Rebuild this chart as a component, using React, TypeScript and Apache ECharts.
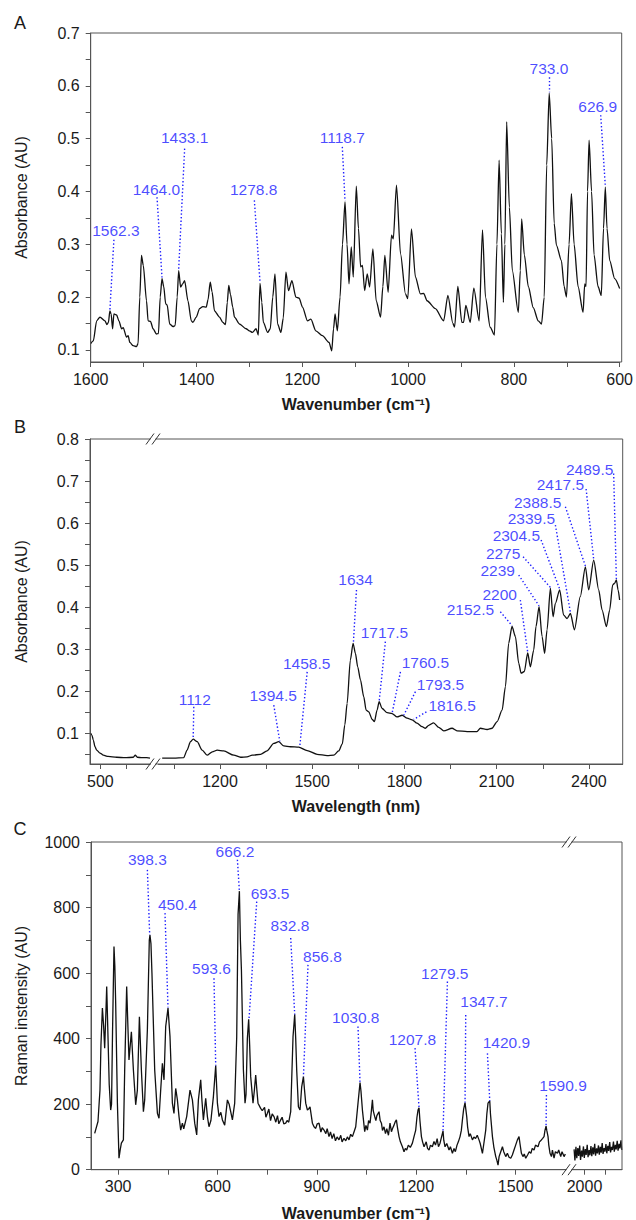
import React, { useEffect, useRef } from 'react';
import * as echarts from 'echarts';

// ---------- Panel A: FTIR (wavenumber, absorbance) ----------
const aSpectrum: [number, number][] = [
  [1600,0.112],[1595.1,0.117],[1588.7,0.155],[1582.5,0.162],[1573,0.155],[1569.3,0.148],[1566.5,0.152],[1563.7,0.174],[1561.4,0.168],[1558.6,0.140],[1556.1,0.168],[1551,0.166],[1546.7,0.155],[1541.6,0.140],[1538.6,0.142],[1532.2,0.124],[1529.2,0.127],[1526,0.114],[1519.8,0.108],[1513.4,0.106],[1510.4,0.112],[1507.2,0.2],[1504,0.279],[1500.6,0.26],[1494.5,0.193],[1491.5,0.155],[1487,0.154],[1482.1,0.140],[1475.7,0.130],[1471.9,0.131],[1468.6,0.2],[1465.2,0.235],[1462,0.22],[1458.2,0.187],[1455.4,0.185],[1450.7,0.149],[1444.4,0.144],[1440.3,0.146],[1436.5,0.2],[1433.7,0.25],[1430,0.219],[1426.2,0.225],[1422.4,0.231],[1416.2,0.193],[1409.8,0.155],[1406.8,0.152],[1400.4,0.162],[1394.2,0.178],[1388,0.182],[1381.5,0.181],[1378.2,0.195],[1374,0.228],[1370.6,0.21],[1366,0.174],[1356.5,0.162],[1350.3,0.152],[1345.2,0.148],[1341.8,0.19],[1339,0.222],[1335.8,0.205],[1331.5,0.181],[1328.2,0.162],[1318.8,0.149],[1306.2,0.140],[1300,0.136],[1294.3,0.133],[1287.4,0.140],[1283.1,0.128],[1279.9,0.226],[1276.5,0.19],[1273.6,0.152],[1265.5,0.133],[1260.5,0.14],[1255.8,0.2],[1251.6,0.244],[1246.7,0.149],[1240.3,0.133],[1236,0.16],[1230.9,0.247],[1226,0.212],[1219.6,0.231],[1212.1,0.2],[1205.9,0.198],[1199.6,0.181],[1190.2,0.155],[1183.8,0.158],[1174.4,0.136],[1161.9,0.127],[1149.3,0.114],[1144.3,0.098],[1140.9,0.14],[1138,0.168],[1133.7,0.136],[1128.6,0.2],[1124,0.3],[1119.2,0.38],[1115.4,0.3],[1111.7,0.225],[1107.4,0.295],[1103.6,0.238],[1097.9,0.41],[1093.8,0.33],[1089.7,0.257],[1086.3,0.26],[1082.1,0.212],[1077.2,0.244],[1072.7,0.219],[1066.5,0.291],[1060.3,0.193],[1052,0.162],[1047.6,0.22],[1043.9,0.279],[1037.7,0.209],[1031.3,0.317],[1027.9,0.31],[1021.9,0.412],[1014.3,0.282],[1004.9,0.206],[1000.6,0.197],[993.6,0.329],[986.1,0.238],[976.7,0.206],[970.5,0.207],[964.2,0.193],[948.4,0.178],[932.8,0.155],[924.7,0.203],[915.3,0.150],[912.1,0.143],[905.9,0.220],[898.3,0.152],[895.1,0.152],[890.8,0.184],[882.5,0.152],[875.7,0.217],[865.6,0.155],[859.3,0.327],[853.7,0.2],[844.8,0.143],[836.7,0.128],[832,0.3],[827.9,0.459],[823.6,0.32],[819.8,0.19],[817,0.3],[813.6,0.532],[808.5,0.37],[802.9,0.25],[791.6,0.171],[787.8,0.25],[785.3,0.348],[780.2,0.28],[772.7,0.22],[763.3,0.18],[753.9,0.155],[747.7,0.149],[742.6,0.2],[737.9,0.45],[733.2,0.586],[728.5,0.5],[723.8,0.34],[719.5,0.298],[710.1,0.269],[705,0.22],[700.6,0.2],[695.6,0.3],[691.2,0.396],[686.1,0.3],[678.6,0.22],[669.2,0.171],[666,0.225],[663.5,0.22],[660.7,0.4],[657.8,0.497],[653.1,0.4],[648.4,0.28],[640.9,0.22],[634.7,0.203],[630.5,0.33],[627.1,0.408],[623.9,0.33],[618.8,0.269],[609.4,0.235],[600,0.216]
];
const aXLabels = [1600, 1400, 1200, 1000, 800, 600];
const aXTicks = [1600, 1500, 1400, 1300, 1200, 1100, 1000, 900, 800, 700, 600];
const aYLabels = [0.1, 0.2, 0.3, 0.4, 0.5, 0.6, 0.7];
const aYTicks = [0.1, 0.15, 0.2, 0.25, 0.3, 0.35, 0.4, 0.45, 0.5, 0.55, 0.6, 0.65, 0.7];

// ---------- Panel B: NIR (wavelength, absorbance), broken axis ----------
const bSpectrumLeft: [number, number][] = [
  [462.7,0.100],[467.7,0.095],[472.8,0.084],[479.4,0.068],[485.9,0.060],[498.7,0.053],[511.5,0.048],[529.7,0.045],[563.4,0.043],[595.5,0.042],[627.6,0.043],[635.4,0.048],[643.1,0.043],[661.3,0.042],[679.5,0.042],[692.3,0.041]
];
const bSpectrumRight: [number, number][] = [
  [1012,0.041],[1050,0.041],[1082,0.042],[1093,0.060],[1104,0.080],[1112.8,0.086],[1125.9,0.080],[1142,0.060],[1158,0.048],[1175,0.056],[1191,0.060],[1212,0.058],[1245,0.048],[1267,0.043],[1288,0.044],[1305,0.048],[1332,0.050],[1353,0.058],[1375,0.076],[1391,0.080],[1407.5,0.070],[1429,0.068],[1456,0.067],[1483.6,0.059],[1516,0.050],[1548.6,0.047],[1570,0.048],[1586,0.058],[1598,0.075],[1606,0.12],[1613.6,0.171],[1624,0.274],[1633,0.314],[1640.6,0.290],[1648,0.258],[1657,0.227],[1667.6,0.187],[1675.4,0.155],[1684,0.151],[1695,0.133],[1702.4,0.128],[1711,0.155],[1717.7,0.175],[1727.5,0.159],[1743.7,0.149],[1760,0.147],[1776,0.139],[1792.5,0.143],[1808.8,0.136],[1825,0.132],[1841,0.124],[1857.6,0.116],[1868,0.112],[1879,0.119],[1895,0.125],[1911.5,0.114],[1927.8,0.106],[1955,0.112],[1971,0.106],[2004,0.104],[2036,0.104],[2047,0.112],[2069,0.109],[2085,0.112],[2101.5,0.128],[2117.7,0.155],[2128.5,0.211],[2139,0.314],[2150,0.354],[2161,0.330],[2171.7,0.267],[2179.5,0.243],[2190,0.247],[2201,0.291],[2209.7,0.258],[2220.5,0.298],[2228,0.354],[2238,0.401],[2247.8,0.330],[2256,0.290],[2264,0.346],[2274.8,0.445],[2283.5,0.377],[2291,0.409],[2305,0.441],[2318,0.381],[2329,0.373],[2340,0.385],[2353,0.346],[2372,0.425],[2388.6,0.496],[2399.5,0.441],[2415.6,0.512],[2432,0.441],[2443,0.393],[2457,0.354],[2467.6,0.393],[2477.4,0.453],[2484,0.457],[2489.4,0.465],[2495,0.441],[2500,0.417]
];
const bXLeftLabels = [500];
const bXLeftTicks = [500, 600];
const bXRightLabels = [1200, 1500, 1800, 2100, 2400];
const bXRightTicks = [1050, 1200, 1350, 1500, 1650, 1800, 1950, 2100, 2250, 2400];
const bYLabels = [0.1, 0.2, 0.3, 0.4, 0.5, 0.6, 0.7, 0.8];
const bYTicks = [0.05, 0.1, 0.15, 0.2, 0.25, 0.3, 0.35, 0.4, 0.45, 0.5, 0.55, 0.6, 0.65, 0.7, 0.75, 0.8];

// ---------- Panel C: Raman (wavenumber, intensity), broken axis ----------
const cSpectrumLeft: [number, number][] = [
  [229.1,111],[239.1,147],[245.1,243],[248,380],[252.4,493],[256,440],[259.3,371],[263,480],[265.4,559],[269.3,406],[273,260],[277.4,182],[280,200],[283,420],[287.4,681],[290,620],[292.5,508],[297.7,203],[302.5,35],[306,60],[309.7,81],[315.8,91],[319.7,304],[325.7,559],[329,450],[332.7,335],[339.9,421],[346,304],[352.9,198],[358,243],[364.1,467],[370.1,304],[376.2,177],[380.1,213],[388.2,427],[394,700],[396,716],[399,690],[402,600],[410.3,304],[418.5,172],[423.3,157],[428.4,243],[433.5,325],[438.4,274],[443.5,437],[450.5,493],[456.5,406],[463.7,203],[468.5,172],[473.7,248],[478.8,213],[483.7,162],[488.8,121],[493.9,142],[498,125],[506.9,162],[516.9,243],[524.1,213],[531.1,142],[537.1,106],[542.2,213],[549.2,274],[553,210],[557.3,152],[564.3,218],[569.4,162],[574.2,131],[580,150],[587.5,223],[594.5,318],[599.6,203],[604.5,162],[610,175],[614.7,152],[621.6,136],[629.8,213],[635,200],[644.9,152],[651.8,203],[657.9,406],[662,780],[666,850],[669,700],[672.1,610],[678.1,304],[683,203],[686,230],[690,400],[694,459],[697,380],[700.1,284],[707.1,203],[711,240],[715.2,289],[719,240],[722.2,203],[730.3,187],[735,180],[742,190],[746,160],[750.5,172],[755,185],[760,150],[765,170],[770.5,162],[776,145],[781,165],[785,140],[790.7,152],[795,160],[800,140],[805.8,142],[810,150],[815,145],[820.9,177],[827.9,406],[833,474],[836,400],[839,304],[844.1,192],[849,182],[854.1,253],[859.3,284],[862,250],[866.2,203],[871.3,182],[876.2,187],[879.2,192],[886.4,142],[891.3,131],[896.4,126],[901,140],[906.4,142],[912,115],[916,128],[921.5,121],[927,110],[931,125],[936.5,101],[941,115],[946,95],[951,110],[956,88],[961,100],[966.7,91],[972,105],[976,85],[981.8,96],[987,88],[992,100],[996.9,91],[1002,108],[1007.2,101],[1013,118],[1017.2,131],[1024.1,203],[1030.2,266],[1033,240],[1037.4,182],[1044.3,116],[1048,135],[1052.5,121],[1056,150],[1060.4,142],[1064,175],[1067.6,213],[1070,180],[1074.5,162],[1078,150],[1081,165],[1087.5,177],[1091,150],[1094.8,142],[1098,120],[1102.6,131],[1107,110],[1111,125],[1116,105],[1120.7,142],[1125,116],[1128,125],[1132.8,136],[1136,145],[1140,152],[1143,130],[1147.9,101],[1152,85],[1158.1,70],[1163,55],[1167,65],[1171.1,60],[1176,75],[1182,68],[1188.3,81],[1193,100],[1198.3,121],[1202,160],[1205.3,182],[1208.3,189],[1211,150],[1215.5,101],[1219,85],[1223.5,70],[1230,85],[1234,65],[1238.5,60],[1243,75],[1248.5,70],[1253.5,86],[1258,75],[1263,95],[1267,70],[1271.7,81],[1275,95],[1280.8,118],[1283,90],[1286.8,70],[1292,80],[1298.9,60],[1303,70],[1309.1,50],[1314,65],[1318,55],[1323,75],[1327,85],[1332.1,101],[1336,120],[1339.3,152],[1343,185],[1347.2,205],[1349.5,185],[1352.3,162],[1355,130],[1359.3,101],[1363,110],[1369.5,91],[1374,100],[1379,95],[1384,105],[1389.4,91],[1393,80],[1399.7,50],[1404,80],[1409.7,121],[1413,170],[1416.6,203],[1421.8,210],[1424,170],[1429.9,101],[1434,70],[1439.9,40],[1443,30],[1446.8,14],[1450,40],[1455,55],[1460.1,70],[1464,55],[1470.1,40],[1475,50],[1480,38],[1485.2,35],[1490,45],[1495,60],[1500,75],[1505.3,91],[1510.2,101],[1513,80],[1517.4,50],[1522,40],[1526,48],[1530.5,35],[1536,45],[1541,55],[1546,50],[1550,65],[1555.5,60],[1560,75],[1567.5,70],[1572,85],[1577,90],[1581,95],[1585.7,101],[1588.5,120],[1591.8,133],[1594,120],[1597.8,101],[1600,75],[1603.8,50],[1608,40],[1611,60],[1615.9,35],[1620,55],[1626.2,50],[1630,60],[1636.1,40],[1640,55],[1646.1,40],[1650,48]
];
const cRightX = [1950,1954,1959,1963,1968,1972,1977,1981,1986,1990,1995,1999,2004,2008,2013,2017,2022,2026,2031,2035,2040,2044,2049,2053,2058,2062,2067,2071,2076,2080,2085,2089,2094,2098,2103,2107,2112,2116,2121,2125,2130,2134,2139,2143,2148,2152,2157,2161,2166,2170,2175,2179];
const cRightY = [62,28,70,35,66,42,74,30,58,40,71,36,63,45,76,38,60,44,72,41,68,47,79,43,65,50,74,46,70,52,81,48,66,55,78,50,73,57,84,53,70,60,86,55,76,62,88,58,79,65,90,60];
const cXLeftLabels = [300, 600, 900, 1200, 1500];
const cXLeftTicks = [300, 450, 600, 750, 900, 1050, 1200, 1350, 1500];
const cXRightLabels = [2000];
const cXRightTicks = [2000, 2100];
const cYLabels = [0, 200, 400, 600, 800, 1000];
const cYTicks = [0, 100, 200, 300, 400, 500, 600, 700, 800, 900, 1000];

// ---------- Peak annotations: label, text centre, leader top, leader bottom (data coords) ----------
type Ann = { label: string; text: [number, number]; top: [number, number]; peak: [number, number] };
const aPeaks: Ann[] = [
  { label: '1562.3', text: [1552.4, 0.326], top: [1556.1, 0.3085], peak: [1563.7, 0.176] },
  { label: '1464.0', text: [1475.7, 0.4034], top: [1474.6, 0.389], peak: [1465.2, 0.237] },
  { label: '1433.1', text: [1422.4, 0.503], top: [1422.4, 0.481], peak: [1433.7, 0.252] },
  { label: '1278.8', text: [1291.9, 0.4034], top: [1290.6, 0.383], peak: [1279.9, 0.228] },
  { label: '1118.7', text: [1124.3, 0.5013], top: [1124.3, 0.4843], peak: [1119.2, 0.382] },
  { label: '733.0', text: [733.7, 0.633], top: [733.7, 0.616], peak: [733.2, 0.588] },
  { label: '626.9', text: [641.4, 0.56], top: [635.8, 0.5444], peak: [627.1, 0.41] },
];
const bPeaks: Ann[] = [
  { label: '1112', text: [1118, 0.181], top: [1114.8, 0.163], peak: [1112.8, 0.088] },
  { label: '1394.5', text: [1373, 0.191], top: [1375, 0.167], peak: [1394.5, 0.081] },
  { label: '1458.5', text: [1482, 0.267], top: [1483.6, 0.246], peak: [1459.5, 0.068] },
  { label: '1634', text: [1641, 0.466], top: [1644, 0.441], peak: [1634, 0.316] },
  { label: '1717.5', text: [1735, 0.34], top: [1738, 0.318], peak: [1718, 0.177] },
  { label: '1760.5', text: [1868.3, 0.268], top: [1787, 0.246], peak: [1760, 0.148] },
  { label: '1793.5', text: [1917, 0.215], top: [1835.8, 0.199], peak: [1797.8, 0.143] },
  { label: '1816.5', text: [1955, 0.167], top: [1871.5, 0.151], peak: [1830, 0.133] },
  { label: '2152.5', text: [2014.6, 0.395], top: [2112, 0.389], peak: [2150, 0.356] },
  { label: '2200', text: [2110, 0.429], top: [2177, 0.417], peak: [2201, 0.293] },
  { label: '2239', text: [2103.5, 0.487], top: [2171.7, 0.4765], peak: [2238, 0.403] },
  { label: '2275', text: [2121, 0.527], top: [2186, 0.52], peak: [2274.8, 0.447] },
  { label: '2304.5', text: [2164, 0.5715], top: [2244.5, 0.56], peak: [2305, 0.443] },
  { label: '2339.5', text: [2213, 0.612], top: [2291, 0.5954], peak: [2340, 0.387] },
  { label: '2388.5', text: [2233.5, 0.65], top: [2323.5, 0.639], peak: [2388.6, 0.498] },
  { label: '2417.5', text: [2307.3, 0.6906], top: [2391, 0.681], peak: [2415.6, 0.514] },
  { label: '2489.5', text: [2402.6, 0.7286], top: [2480.6, 0.718], peak: [2489.4, 0.467] },
];
const cPeaks: Ann[] = [
  { label: '398.3', text: [388.2, 946], top: [388.2, 915], peak: [395.2, 716] },
  { label: '450.4', text: [478.8, 810], top: [441.4, 783], peak: [450.5, 495] },
  { label: '593.6', text: [581.5, 613], top: [589.3, 584], peak: [594.5, 318] },
  { label: '666.2', text: [652.7, 971], top: [660, 946], peak: [666, 850] },
  { label: '693.5', text: [758.5, 844], top: [718.3, 818], peak: [695, 459] },
  { label: '832.8', text: [818.8, 744], top: [820.9, 707], peak: [833, 474] },
  { label: '856.8', text: [916.6, 650], top: [873.1, 625], peak: [859.3, 284] },
  { label: '1030.8', text: [1017.2, 465], top: [1024.1, 437], peak: [1030.2, 266] },
  { label: '1207.8', text: [1188.3, 398], top: [1196.2, 371], peak: [1208.3, 189] },
  { label: '1279.5', text: [1285.9, 600], top: [1294, 574], peak: [1280.8, 118] },
  { label: '1347.7', text: [1404.5, 513], top: [1349.3, 472], peak: [1347.2, 205] },
  { label: '1420.9', text: [1472.2, 388], top: [1414.8, 355], peak: [1421.8, 210] },
  { label: '1590.9', text: [1643.1, 256], top: [1592.9, 228], peak: [1591.8, 133] },
];

const FONT = "'Liberation Sans', Arial, Helvetica, sans-serif";
const BLUE = '#1c1cff';
const AXC = '#555';
const TXT = '#1a1a1a';

const fInt = (v: number) => String(Math.round(v));
const f1 = (v: number) => v.toFixed(1);

function xAxisCfg(grid: number, min: number, max: number, labels: number[], ticks: number[], inverse = false): any {
  return {
    gridIndex: grid, type: 'value', min, max, inverse,
    axisLine: { show: true, onZero: false, lineStyle: { color: AXC, width: 1 } },
    axisTick: { show: true, length: 5, customValues: ticks, lineStyle: { color: AXC } },
    axisLabel: { customValues: labels, margin: 9, fontSize: 16, color: TXT, fontFamily: FONT, formatter: fInt },
    splitLine: { show: false },
  };
}
function yAxisCfg(grid: number, min: number, max: number, labels: number[], ticks: number[], fmt: (v: number) => string, show = true): any {
  return {
    gridIndex: grid, type: 'value', min, max, show,
    axisLine: { show: true, onZero: false, lineStyle: { color: AXC, width: 1 } },
    axisTick: { show: true, length: 5, customValues: ticks, lineStyle: { color: AXC } },
    axisLabel: { customValues: labels, margin: 11, fontSize: 16, color: TXT, fontFamily: FONT, formatter: fmt },
    splitLine: { show: false },
  };
}
function lineSeries(data: [number, number][], xi: number, yi: number, smooth: number | boolean): any {
  return {
    type: 'line', xAxisIndex: xi, yAxisIndex: yi, data, showSymbol: false, symbol: 'none',
    smooth, smoothMonotone: 'x', silent: true,
    lineStyle: { color: '#111', width: 1.3 }, z: 2,
  };
}
function annSeries(anns: Ann[], xi: number, yi: number): any[] {
  return [
    {
      type: 'lines', coordinateSystem: 'cartesian2d', xAxisIndex: xi, yAxisIndex: yi, silent: true, z: 3,
      lineStyle: { color: BLUE, width: 1.4, type: [1.4, 2.2], opacity: 1 },
      data: anns.map(a => ({ coords: [a.top, a.peak] })),
    },
    {
      type: 'scatter', xAxisIndex: xi, yAxisIndex: yi, symbolSize: 1, silent: true, z: 4,
      itemStyle: { color: 'rgba(0,0,0,0)' },
      label: { show: true, position: 'inside', formatter: '{b}', color: BLUE, fontSize: 15.5, lineHeight: 15, fontFamily: FONT },
      data: anns.map(a => ({ name: a.label, value: a.text })),
    },
  ];
}
function frame(x: number, y: number, w: number, h: number): any {
  return { type: 'rect', shape: { x, y, width: w, height: h }, style: { fill: 'none', stroke: AXC, lineWidth: 1 }, z: 10 };
}
function brk(cx: number, cy: number): any[] {
  return [
    { type: 'rect', shape: { x: cx - 2.4, y: cy - 1.6, width: 4.8, height: 3.2 }, style: { fill: '#fff' }, z: 11 },
    { type: 'line', shape: { x1: cx - 7, y1: cy + 5.5, x2: cx + 1, y2: cy - 5.5 }, style: { stroke: '#333', lineWidth: 1 }, z: 12 },
    { type: 'line', shape: { x1: cx - 1, y1: cy + 5.5, x2: cx + 7, y2: cy - 5.5 }, style: { stroke: '#333', lineWidth: 1 }, z: 12 },
  ];
}
function txt(text: string, x: number, y: number, size: number, weight: string = 'normal', rotation = 0): any {
  return {
    type: 'text', x, y, rotation, z: 20,
    style: { text, fill: TXT, fontSize: size, fontWeight: weight, fontFamily: FONT, align: 'center', verticalAlign: 'middle', textAlign: 'center', textVerticalAlign: 'middle' },
  };
}

export default function App() {
  const ref = useRef<HTMLDivElement>(null);
  useEffect(() => {
    document.body.style.margin = '0';
    if (!ref.current) return;
    const chart = echarts.init(ref.current, null, { renderer: 'svg' });
    const option: any = {
      animation: false,
      backgroundColor: '#fff',
      grid: [
        { left: 90.7, top: 33, width: 531, height: 329 },
        { left: 90, top: 439, width: 62, height: 325 },
        { left: 158.5, top: 439, width: 464.2, height: 325 },
        { left: 91, top: 842, width: 475, height: 327.7 },
        { left: 572, top: 842, width: 50, height: 327.7 },
      ],
      xAxis: [
        xAxisCfg(0, 600, 1600, aXLabels, aXTicks, true),
        xAxisCfg(1, 460, 700, bXLeftLabels, bXLeftTicks),
        xAxisCfg(2, 1000, 2510, bXRightLabels, bXRightTicks),
        xAxisCfg(3, 218, 1652, cXLeftLabels, cXLeftTicks),
        xAxisCfg(4, 1940, 2180, cXRightLabels, cXRightTicks),
      ],
      yAxis: [
        yAxisCfg(0, 0.077, 0.7, aYLabels, aYTicks, f1),
        yAxisCfg(1, 0.027, 0.8, bYLabels, bYTicks, f1),
        yAxisCfg(2, 0.027, 0.8, bYLabels, bYTicks, f1, false),
        yAxisCfg(3, 0, 1000, cYLabels, cYTicks, fInt),
        yAxisCfg(4, 0, 1000, cYLabels, cYTicks, fInt, false),
      ],
      series: [
        lineSeries(aSpectrum, 0, 0, 0.25),
        lineSeries(bSpectrumLeft, 1, 1, 0.25),
        lineSeries(bSpectrumRight, 2, 2, 0.25),
        lineSeries(cSpectrumLeft, 3, 3, false),
        lineSeries(cRightX.map((x, i) => [x, cRightY[i]] as [number, number]), 4, 4, false),
        ...annSeries(aPeaks, 0, 0),
        ...annSeries(bPeaks, 2, 2),
        ...annSeries(cPeaks, 3, 3),
      ],
      graphic: [
        frame(90.7, 33, 531, 329),
        frame(90, 439, 532.7, 325),
        frame(91, 842, 531, 327.7),
        ...brk(153, 439), ...brk(153, 764),
        ...brk(569, 842), ...brk(569, 1169.7),
        txt('A', 20, 23, 18),
        txt('B', 20, 427, 18),
        txt('C', 20, 829, 18),
        txt('Absorbance (AU)', 21, 197.5, 16, 'normal', Math.PI / 2),
        txt('Absorbance (AU)', 21, 601.5, 16, 'normal', Math.PI / 2),
        txt('Raman instensity (AU)', 21, 1006, 16, 'normal', Math.PI / 2),
        txt('Wavenumber (cm⁻¹)', 356, 404, 16, 'bold'),
        txt('Wavelength (nm)', 356, 806, 16, 'bold'),
        txt('Wavenumber (cm⁻¹)', 356, 1213, 16, 'bold'),
      ],
    };
    chart.setOption(option);
    return () => chart.dispose();
  }, []);
  return <div ref={ref} style={{ width: 636, height: 1220 }} />;
}
